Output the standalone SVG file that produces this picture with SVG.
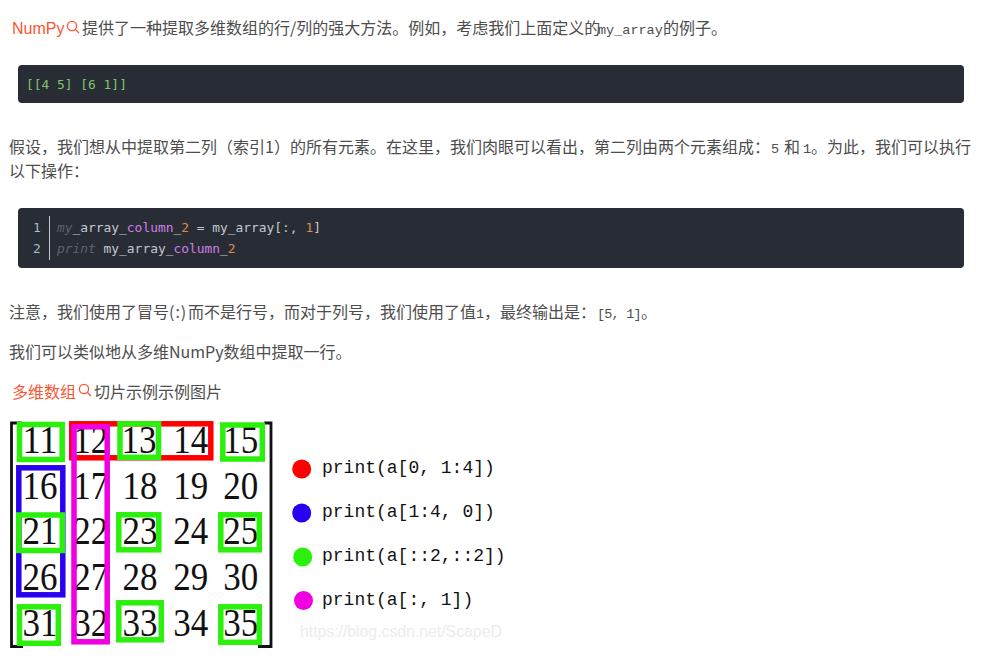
<svg xmlns="http://www.w3.org/2000/svg" width="984" height="664" viewBox="0 0 984 664">
<style>
.b{font-family:"Noto Sans CJK SC","Liberation Sans",sans-serif;font-size:16px;fill:#4d4d4d}
.l{font-family:"Liberation Sans","Noto Sans CJK SC",sans-serif}
.r{font-family:"Liberation Sans","Noto Sans CJK SC",sans-serif;font-size:16px;fill:#fc5531}
.m{font-family:"Liberation Mono",monospace;font-size:13.5px;fill:#4d4d4d}
.c{font-family:"DejaVu Sans Mono",monospace;font-size:12.9px;fill:#c3c8d1}
.k{fill:#5c6370;font-style:italic}.p{fill:#d07ee8}.o{fill:#e08a4a}
.ic{fill:none;stroke:#fc5531;stroke-width:1.3}
.n{font-family:"Liberation Serif",serif;font-size:41px;fill:#111;text-anchor:middle}
.g{fill:none;stroke:#2bf00c;stroke-width:5.5}
.t{font-family:"Liberation Mono",monospace;font-size:18px;fill:#111}
</style>
<rect width="984" height="664" fill="#fff"/>

<text class="r" x="12" y="34">NumPy</text>
<g class="ic"><circle cx="72" cy="26" r="4.6"/><path d="M75.5 29.5L79 33"/></g>
<text class="b" x="82" y="34">提供了一种提取多维数组的行/列的强大方法。例如，考虑我们上面定义的</text>
<text class="m" x="598" y="34">my_array</text>
<text class="b" x="663" y="34">的例子。</text>

<rect x="18" y="65" width="946" height="38" rx="4" fill="#282c34"/>
<text class="c" x="26" y="89" style="fill:#7fc46f">[[4 5] [6 1]]</text>

<text class="b" x="9" y="153">假设，我们想从中提取第二列（索引1）的所有元素。在这里，我们肉眼可以看出，第二列由两个元素组成：</text>
<text class="m" x="771" y="153">5</text>
<text class="b" x="784" y="153">和</text>
<text class="m" x="803" y="153">1</text>
<text class="b" x="811" y="153">。为此，我们可以执行</text>
<text class="b" x="9" y="177">以下操作：</text>

<rect x="18" y="208" width="946" height="60" rx="4" fill="#282c34"/>
<text class="c" x="33" y="232" style="fill:#a9bccb">1</text>
<text class="c" x="33" y="253" style="fill:#a9bccb">2</text>
<path d="M49.500 216V260" stroke="#c5c8cc" stroke-width="1"/>
<text class="c" x="57" y="232"><tspan class="k">my</tspan>_array_<tspan class="p">column</tspan>_<tspan class="o">2</tspan> = my_array[:, <tspan class="o">1</tspan>]</text>
<text class="c" x="57" y="253"><tspan class="k">print</tspan> my_array_<tspan class="p">column</tspan>_<tspan class="o">2</tspan></text>

<text class="b" x="9" y="318">注意，我们使用了冒号</text>
<text class="b" x="169" y="318" letter-spacing="1">(:)</text>
<text class="b" x="188" y="318">而不是行号，而对于列号，我们使用了值</text>
<text class="m" x="476" y="318">1</text>
<text class="b" x="484" y="318">，最终输出是：</text>
<text class="m" x="597" y="318" letter-spacing="-0.8" xml:space="preserve">[5, 1]</text>
<text class="b" x="641" y="318">。</text>
<text class="b" x="9" y="358">我们可以类似地从多维NumPy数组中提取一行。</text>
<text class="r" x="12" y="398">多维数组</text>
<g class="ic"><circle cx="84" cy="389" r="4.6"/><path d="M87.500 392.500L91 396"/></g>
<text class="b" x="94" y="398">切片示例示例图片</text>

<path d="M22 423H11.500V646.500H23M258 646.500H271V423H264" fill="none" stroke="#111" stroke-width="2.800"/>

<g lengthAdjust="spacingAndGlyphs">
<text class="n" textLength="35" lengthAdjust="spacingAndGlyphs" x="40" y="453">11</text><text class="n" textLength="35" lengthAdjust="spacingAndGlyphs" x="90.700" y="453">12</text><text class="n" textLength="35" lengthAdjust="spacingAndGlyphs" x="139" y="453">13</text><text class="n" textLength="35" lengthAdjust="spacingAndGlyphs" x="190.700" y="453">14</text><text class="n" textLength="35" lengthAdjust="spacingAndGlyphs" x="240.700" y="453">15</text>
<text class="n" textLength="35" lengthAdjust="spacingAndGlyphs" x="40" y="499">16</text><text class="n" textLength="35" lengthAdjust="spacingAndGlyphs" x="90.700" y="499">17</text><text class="n" textLength="35" lengthAdjust="spacingAndGlyphs" x="140" y="499">18</text><text class="n" textLength="35" lengthAdjust="spacingAndGlyphs" x="190.700" y="499">19</text><text class="n" textLength="35" lengthAdjust="spacingAndGlyphs" x="240.700" y="499">20</text>
<text class="n" textLength="35" lengthAdjust="spacingAndGlyphs" x="40" y="544">21</text><text class="n" textLength="35" lengthAdjust="spacingAndGlyphs" x="90.700" y="544">22</text><text class="n" textLength="35" lengthAdjust="spacingAndGlyphs" x="140" y="544">23</text><text class="n" textLength="35" lengthAdjust="spacingAndGlyphs" x="190.700" y="544">24</text><text class="n" textLength="35" lengthAdjust="spacingAndGlyphs" x="240.700" y="544">25</text>
<text class="n" textLength="35" lengthAdjust="spacingAndGlyphs" x="40" y="590">26</text><text class="n" textLength="35" lengthAdjust="spacingAndGlyphs" x="90.700" y="590">27</text><text class="n" textLength="35" lengthAdjust="spacingAndGlyphs" x="140" y="590">28</text><text class="n" textLength="35" lengthAdjust="spacingAndGlyphs" x="190.700" y="590">29</text><text class="n" textLength="35" lengthAdjust="spacingAndGlyphs" x="240.700" y="590">30</text>
<text class="n" textLength="35" lengthAdjust="spacingAndGlyphs" x="40" y="636">31</text><text class="n" textLength="35" lengthAdjust="spacingAndGlyphs" x="90.700" y="636">32</text><text class="n" textLength="35" lengthAdjust="spacingAndGlyphs" x="140" y="636">33</text><text class="n" textLength="35" lengthAdjust="spacingAndGlyphs" x="190.700" y="636">34</text><text class="n" textLength="35" lengthAdjust="spacingAndGlyphs" x="240.700" y="636">35</text>
</g>

<rect x="71.800" y="423.800" width="139" height="34" fill="none" stroke="#ff0000" stroke-width="5.500"/>
<rect x="18.800" y="467.800" width="44" height="127" fill="none" stroke="#2a00f0" stroke-width="5.500"/>
<rect x="19.500" y="424.500" width="42.700" height="35" class="g"/>
<rect x="120" y="423.800" width="38.500" height="33.500" class="g"/>
<rect x="222.800" y="425" width="39.500" height="34" class="g"/>
<rect x="18.800" y="515" width="43.500" height="35.500" class="g"/>
<rect x="118.800" y="514.800" width="40" height="35" class="g"/>
<rect x="220.800" y="514.800" width="38.500" height="35" class="g"/>
<rect x="19.500" y="606.800" width="38.800" height="36.500" class="g"/>
<rect x="118.800" y="602.800" width="42.500" height="37" class="g"/>
<rect x="220.800" y="606.800" width="38.500" height="35.500" class="g"/>
<rect x="74" y="426.800" width="33.200" height="215" fill="none" stroke="#f000e0" stroke-width="5.500"/>

<circle cx="301.700" cy="469" r="9.500" fill="#ff0000"/>
<circle cx="301.700" cy="513" r="9.500" fill="#2a00f0"/>
<circle cx="302.700" cy="557" r="9.500" fill="#2bf00c"/>
<circle cx="303.500" cy="600.500" r="9.500" fill="#f000e0"/>
<text class="t" x="322" y="473" xml:space="preserve">print(a[0, 1:4])</text>
<text class="t" x="322" y="517" xml:space="preserve">print(a[1:4, 0])</text>
<text class="t" x="322" y="561" xml:space="preserve">print(a[::2,::2])</text>
<text class="t" x="322" y="605" xml:space="preserve">print(a[:, 1])</text>
<text class="l" x="300" y="637" font-size="16" fill="#ececec" textLength="202">https://blog.csdn.net/ScapeD</text>
</svg>
